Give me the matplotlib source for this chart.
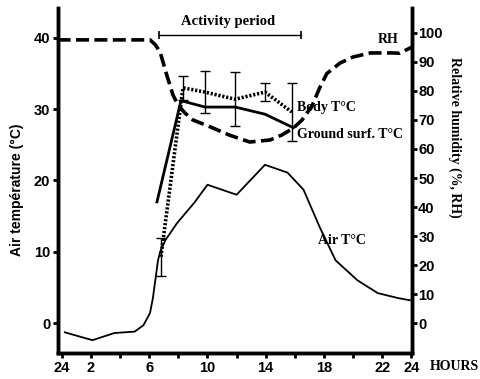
import matplotlib
matplotlib.use("Agg")
import matplotlib.pyplot as plt

# hours of day and readings
air_h = [0.2, 1.4, 2.1, 3.6, 4.3, 5.0, 5.6, 6.05, 6.25, 6.6, 6.75, 7.1, 7.9, 9.1, 10.0, 12.0,
         13.95, 15.5, 16.6, 17.7, 18.8, 20.3, 21.7, 23.1, 23.9]
air_t = [-1.3, -2.0, -2.4, -1.4, -1.3, -1.2, -0.3, 1.4, 3.5, 8.8, 10.0, 11.6, 14.0, 16.9, 19.4, 18.0,
         22.2, 21.1, 18.7, 13.5, 8.8, 6.0, 4.2, 3.5, 3.2]

body_h = [6.8, 8.32, 9.83, 11.9, 13.95, 15.8]
body_t = [9.3, 33.0, 32.4, 31.4, 32.4, 29.6]
body_err = [2.7, 1.7, 2.9, 3.8, 1.3, 4.1]

ground_h = [6.53, 8.18, 9.83, 11.9, 13.95, 15.9]
ground_t = [17.0, 31.2, 30.3, 30.3, 29.3, 27.4]

rh_h = [-0.3, 6.05, 6.4, 6.74, 7.2, 7.63, 7.97, 8.45, 9.0, 10.2, 11.5, 12.9, 14.3, 15.1, 15.9,
        16.5, 17.2, 17.7, 18.2, 19.1, 20.0, 21.2, 22.7, 23.2, 24.0]
rh = [97.6, 97.6, 96.0, 93.5, 85.5, 78.6, 75.2, 72.4, 70.0, 67.6, 64.8, 62.4, 63.1, 64.8, 67.2,
      70.0, 75.0, 81.0, 86.0, 89.6, 91.7, 93.1, 93.1, 93.0, 95.0]

x_ticks = [0, 2, 4, 6, 8, 10, 12, 14, 16, 18, 20, 22, 24]
x_labels = ['24', '2', '', '6', '', '10', '', '14', '', '18', '', '22', '24']

serif = 'Liberation Serif'
sans = 'Liberation Sans'

fig = plt.figure(figsize=(4.81, 3.79), dpi=100)
ax = fig.add_axes([0.1206, 0.0686, 0.7359, 0.9104])
ax2 = ax.twinx()

ax.set_xlim(-0.27, 24.05)
ax.set_ylim(-4.2, 44.2)
ax2.set_ylim(-10.3, 108.6)

# air temperature
ax.plot(air_h, air_t, color='black', lw=1.3)
# ground surface
ax.plot(ground_h, ground_t, color='black', lw=2.0)
# body
ax.plot(body_h, body_t, color='black', lw=2.6, linestyle=(0, (0.6, 0.5)))
ax.errorbar(body_h, body_t, yerr=body_err, fmt='none', ecolor='black', elinewidth=1.0, capsize=3.5,
            capthick=1.0)
# relative humidity
ax2.plot(rh_h, rh, color='black', lw=2.6, linestyle=(0, (3.6, 1.5)))

# activity period bar
ax.plot([6.7, 16.4], [40.4, 40.4], color='black', lw=1.0, marker='|', ms=6, mew=1.2)
ax.text(11.4, 42.3, 'Activity period', ha='center', va='center', fontsize=10.5,
        fontweight='bold', family=serif)

ax.text(16.15, 30.2, 'Body T°C', ha='left', va='center', fontsize=10, fontweight='bold', family=serif)
ax.text(16.15, 26.4, 'Ground surf. T°C', ha='left', va='center', fontsize=10, fontweight='bold', family=serif)
ax.text(17.6, 11.6, 'Air T°C', ha='left', va='center', fontsize=10, fontweight='bold', family=serif)
ax.text(21.7, 39.8, 'RH', ha='left', va='center', fontsize=10, fontweight='bold', family=serif)

for a in (ax, ax2):
    a.spines['top'].set_visible(False)
    for s in ('left', 'right', 'bottom'):
        a.spines[s].set_linewidth(2.5)

ax.set_xticks(x_ticks)
ax.set_xticklabels(x_labels)
ax.set_yticks([0, 10, 20, 30, 40])
ax2.set_yticks(range(0, 101, 10))
ax.tick_params(axis='both', direction='out', length=3.5, width=2, labelsize=10.5, pad=2)
ax2.tick_params(axis='y', direction='out', length=3.5, width=2, labelsize=10.5, pad=1)
for lab in ax.get_xticklabels() + ax.get_yticklabels() + ax2.get_yticklabels():
    lab.set_fontweight('bold')
    lab.set_family(sans)

fig.text(17 / 481, 1 - 190 / 379, 'Air température (°C)', rotation=90, ha='center', va='center',
         fontsize=10, fontweight='bold', family=sans)
fig.text(455 / 481, 1 - 137 / 379, 'Relative humidity (%, RH)', rotation=-90, ha='center', va='center',
         fontsize=10, fontweight='bold', family=serif)
fig.text(430 / 481, 1 - 366 / 379, 'HOURS', ha='left', va='center', fontsize=10, fontweight='bold',
         family=serif)

fig.savefig('out.png', dpi=100)
